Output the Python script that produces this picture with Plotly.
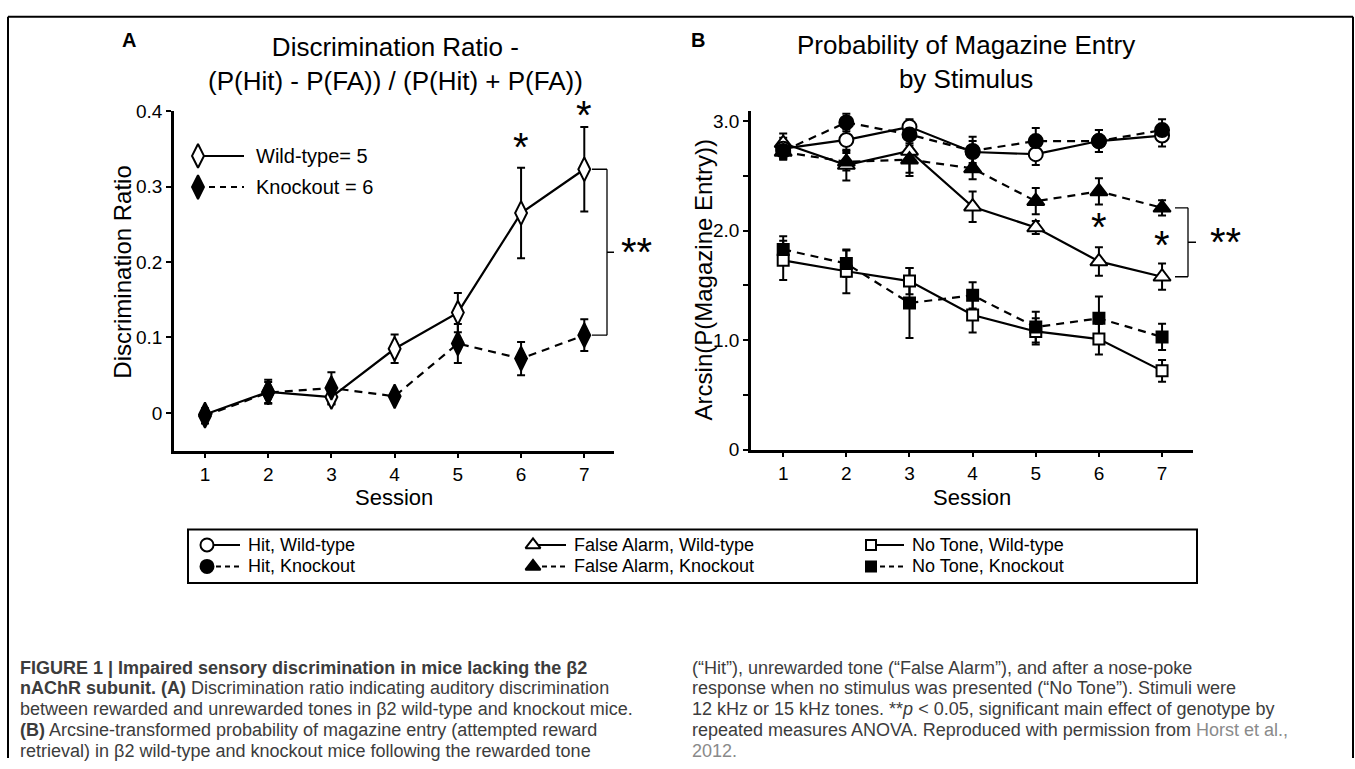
import plotly.graph_objects as go

W, H = 1355, 769
FONT = "Liberation Sans, Arial, Helvetica, sans-serif"

# ---------------- data ----------------
sessions = [1, 2, 3, 4, 5, 6, 7]

# Panel A: discrimination ratio
dr_wt = [-0.002, 0.028, 0.021, 0.085, 0.133, 0.265, 0.323]
dr_wt_err = [0.008, 0.016, 0.010, 0.019, 0.026, 0.060, 0.056]
dr_ko = [-0.004, 0.027, 0.033, 0.022, 0.092, 0.072, 0.103]
dr_ko_err = [0.010, 0.014, 0.021, 0.005, 0.026, 0.022, 0.021]

# Panel B: arcsine probability of magazine entry
hit_wt = [2.75, 2.83, 2.95, 2.72, 2.70, 2.82, 2.87]
hit_wt_err = [0.10, 0.10, 0.07, 0.10, 0.10, 0.10, 0.10]
hit_ko = [2.73, 2.99, 2.88, 2.73, 2.82, 2.82, 2.92]
hit_ko_err = [0.07, 0.08, 0.10, 0.13, 0.12, 0.10, 0.10]
fa_wt = [2.80, 2.60, 2.73, 2.22, 2.03, 1.72, 1.58]
fa_wt_err = [0.09, 0.14, 0.20, 0.14, 0.06, 0.13, 0.12]
fa_ko = [2.72, 2.63, 2.65, 2.57, 2.27, 2.36, 2.21]
fa_ko_err = [0.06, 0.08, 0.15, 0.10, 0.12, 0.12, 0.07]
nt_wt = [1.73, 1.63, 1.54, 1.23, 1.08, 1.01, 0.72]
nt_wt_err = [0.18, 0.20, 0.12, 0.16, 0.12, 0.14, 0.10]
nt_ko = [1.83, 1.70, 1.34, 1.41, 1.12, 1.20, 1.03]
nt_ko_err = [0.12, 0.12, 0.32, 0.12, 0.14, 0.20, 0.12]

a_ticks = [0, 0.1, 0.2, 0.3, 0.4]
a_ticktext = ["0", "0.1", "0.2", "0.3", "0.4"]
b_ticks = [0, 1, 2, 3]
b_ticktext = ["0", "1.0", "2.0", "3.0"]

legend_a = ["Wild-type= 5", "Knockout = 6"]
legend_b = ["Hit, Wild-type", "False Alarm, Wild-type", "No Tone, Wild-type",
            "Hit, Knockout", "False Alarm, Knockout", "No Tone, Knockout"]

# ---------------- figure ----------------
fig = go.Figure()

DASH = "8px,6px"


def err_trace(y, e, xa, ya):
    return go.Scatter(x=sessions, y=y, mode="markers", xaxis=xa, yaxis=ya,
                      marker=dict(size=1, color="rgba(0,0,0,0)"),
                      error_y=dict(type="data", array=e, color="black", thickness=2, width=4),
                      showlegend=False, hoverinfo="skip")


def line_trace(y, xa, ya, dash, symbol, fill, size):
    return go.Scatter(x=sessions, y=y, mode="lines+markers", xaxis=xa, yaxis=ya,
                      line=dict(color="black", width=2.2, dash=dash),
                      marker=dict(symbol=symbol, size=size, color=fill,
                                  line=dict(color="black", width=2)),
                      showlegend=False)


# Panel A
fig.add_trace(err_trace(dr_wt, dr_wt_err, "x", "y"))
fig.add_trace(err_trace(dr_ko, dr_ko_err, "x", "y"))
fig.add_trace(line_trace(dr_wt, "x", "y", "solid", "diamond-tall", "white", 17))
fig.add_trace(line_trace(dr_ko, "x", "y", DASH, "diamond-tall", "black", 17))

# Panel B
for yv, ev in [(hit_wt, hit_wt_err), (fa_wt, fa_wt_err), (nt_wt, nt_wt_err),
               (hit_ko, hit_ko_err), (fa_ko, fa_ko_err), (nt_ko, nt_ko_err)]:
    fig.add_trace(err_trace(yv, ev, "x2", "y2"))
fig.add_trace(line_trace(nt_wt, "x2", "y2", "solid", "square", "white", 11))
fig.add_trace(line_trace(fa_wt, "x2", "y2", "solid", "triangle-up", "white", 15))
fig.add_trace(line_trace(hit_wt, "x2", "y2", "solid", "circle", "white", 14))
fig.add_trace(line_trace(nt_ko, "x2", "y2", DASH, "square", "black", 11))
fig.add_trace(line_trace(fa_ko, "x2", "y2", DASH, "triangle-up", "black", 15))
fig.add_trace(line_trace(hit_ko, "x2", "y2", DASH, "circle", "black", 14))

# ---------------- legend keys (pixel overlay axis x3/y3) ----------------
def key(xm, ym, symbol, fill, size, dash, x1, x2):
    fig.add_trace(go.Scatter(x=[x1, x2], y=[ym, ym], mode="lines", xaxis="x3", yaxis="y3",
                             line=dict(color="black", width=2, dash=dash),
                             showlegend=False, hoverinfo="skip"))
    fig.add_trace(go.Scatter(x=[xm], y=[ym], mode="markers", xaxis="x3", yaxis="y3",
                             marker=dict(symbol=symbol, size=size, color=fill,
                                         line=dict(color="black", width=2)),
                             showlegend=False, hoverinfo="skip"))


annotations = []


def txt(x, y, s, size, xanchor="left", color="black", bold=False, yanchor="middle"):
    annotations.append(dict(x=x, y=y, xref="x3", yref="y3", text=(f"<b>{s}</b>" if bold else s),
                            showarrow=False, xanchor=xanchor, yanchor=yanchor,
                            font=dict(family=FONT, size=size, color=color)))


# panel A legend
key(198, 150, "diamond-tall", "white", 17, "solid", 198, 244)
key(198, 182, "diamond-tall", "black", 17, "6px,5px", 198, 244)
txt(254, 150, legend_a[0], 20)
txt(254, 182, legend_a[1], 20)

# panel B legend
rows = [550, 572]
cols = [207, 533, 871]
syms = [("circle", 13), ("triangle-up", 13), ("square", 10)]
for r in range(2):
    for c in range(3):
        sym, sz = syms[c]
        fill = "white" if r == 0 else "black"
        dash = "solid" if r == 0 else "5px,4px"
        key(cols[c], rows[r], sym, fill, sz, dash, cols[c], cols[c] + 33)
        txt(cols[c] + 39, rows[r], legend_b[r * 3 + c], 18)

# ---------------- texts ----------------
txt(129, 31, "A", 20, xanchor="center", bold=True)
txt(698, 31, "B", 20, xanchor="center", bold=True)
txt(395, 55, "Discrimination Ratio -<br>(P(Hit) - P(FA)) / (P(Hit) + P(FA))", 26, xanchor="center")
txt(966, 53, "Probability of Magazine Entry<br>by Stimulus", 26, xanchor="center")
txt(394, 501, "Session", 22, xanchor="center")
txt(972, 501, "Session", 22, xanchor="center")

annotations.append(dict(x=123, y=270, xref="x3", yref="y3", text="Discrimination Ratio",
                        textangle=-90, showarrow=False,
                        font=dict(family=FONT, size=24, color="black")))
annotations.append(dict(x=703, y=278, xref="x3", yref="y3", text="Arcsin(P(Magazine Entry))",
                        textangle=-90, showarrow=False,
                        font=dict(family=FONT, size=24, color="black")))

# significance stars (data coordinates)
def star(x, y, xref, yref, s="*"):
    annotations.append(dict(x=x, y=y, xref=xref, yref=yref, text=s, showarrow=False,
                            xanchor="center", yanchor="middle",
                            font=dict(family=FONT, size=40, color="black")))


star(6, dr_wt[5] + dr_wt_err[5] + 0.027, "x", "y")
star(7, dr_wt[6] + dr_wt_err[6] + 0.016, "x", "y")
star(6, fa_wt[5] + 0.31, "x2", "y2")
star(7, fa_wt[6] + 0.29, "x2", "y2")

CAP = 18
cap_col = "#3c3c3c"
left_lines = [
    "<b>FIGURE 1 | Impaired sensory discrimination in mice lacking the β2</b>",
    "<b>nAChR subunit. (A)</b> Discrimination ratio indicating auditory discrimination",
    "between rewarded and unrewarded tones in β2 wild-type and knockout mice.",
    "<b>(B)</b> Arcsine-transformed probability of magazine entry (attempted reward",
    "retrieval) in β2 wild-type and knockout mice following the rewarded tone",
]
right_lines = [
    "(“Hit”), unrewarded tone (“False Alarm”), and after a nose-poke",
    "response when no stimulus was presented (“No Tone”). Stimuli were",
    "12 kHz or 15 kHz tones. **<i>p</i> &lt; 0.05, significant main effect of genotype by",
    "repeated measures ANOVA. Reproduced with permission from <span style='color:#8a8a8a'>Horst et al.,</span>",
    "<span style='color:#8a8a8a'>2012.</span>",
]
cap_y = [676, 697.5, 719, 740.5, 762]
for i, s in enumerate(left_lines):
    txt(18, cap_y[i], s, CAP, color=cap_col)
for i, s in enumerate(right_lines):
    txt(690, cap_y[i], s, CAP, color=cap_col)

# ---------------- shapes ----------------
shapes = []
# figure frame
for (x0, y0, x1, y1) in [(8, 7, 1353, 7), (8, 7, 8, 769), (1353, 7, 1353, 769)]:
    shapes.append(dict(type="line", xref="x3", yref="y3", x0=x0, y0=y0, x1=x1, y1=y1,
                       line=dict(color="black", width=2)))
# legend box
shapes.append(dict(type="rect", xref="x3", yref="y3", x0=188, y0=534, x1=1197, y1=589,
                   line=dict(color="black", width=2)))


def bracket(y_top, y_bot, xl, xv, xr, yref):
    p = lambda v: v / W
    kw = dict(xref="paper", yref=yref, line=dict(color="black", width=1.3))
    shapes.append(dict(type="line", x0=p(xl), x1=p(xv), y0=y_top, y1=y_top, **kw))
    shapes.append(dict(type="line", x0=p(xl), x1=p(xv), y0=y_bot, y1=y_bot, **kw))
    shapes.append(dict(type="line", x0=p(xv), x1=p(xv), y0=y_top, y1=y_bot, **kw))
    ym = (y_top + y_bot) / 2
    shapes.append(dict(type="line", x0=p(xv), x1=p(xr), y0=ym, y1=ym, **kw))
    return ym


ym_a = bracket(dr_wt[6], dr_ko[6], 592, 607, 614, "y")
annotations.append(dict(x=636 / W, y=ym_a, xref="paper", yref="y", text="**", showarrow=False,
                        xanchor="center", yanchor="middle",
                        font=dict(family=FONT, size=40, color="black")))
ym_b = bracket(fa_ko[6], fa_wt[6], 1175, 1188, 1196, "y2")
annotations.append(dict(x=1225 / W, y=ym_b, xref="paper", yref="y2", text="**", showarrow=False,
                        xanchor="center", yanchor="middle",
                        font=dict(family=FONT, size=40, color="black")))

# ---------------- axes ----------------
axis_common = dict(showline=True, linecolor="black", linewidth=2.5, ticks="outside",
                   ticklen=5, tickwidth=2, tickcolor="black", showgrid=False, zeroline=False,
                   tickfont=dict(family=FONT, size=19, color="black"), fixedrange=True)

fig.update_layout(
    width=W, height=H,
    margin=dict(l=0, r=0, t=0, b=0),
    paper_bgcolor="white", plot_bgcolor="rgba(0,0,0,0)",
    showlegend=False,
    xaxis=dict(domain=[174 / W, 614 / W], range=[0.51, 7.47], tickvals=sessions,
               anchor="y", **axis_common),
    yaxis=dict(domain=[1 - 453 / H, 1 - 104 / H], range=[-0.05, 0.4], tickvals=a_ticks,
               ticktext=a_ticktext, anchor="x", **axis_common),
    xaxis2=dict(domain=[751 / W, 1193 / W], range=[0.49, 7.49], tickvals=sessions,
                anchor="y2", **axis_common),
    yaxis2=dict(domain=[1 - 452 / H, 1 - 104 / H], range=[0, 3.093], tickvals=b_ticks,
                ticktext=b_ticktext, anchor="x2",
                minor=dict(tickvals=[0.5, 1.5, 2.5], ticklen=5, tickwidth=2, ticks="outside",
                           tickcolor="black"),
                **axis_common),
    xaxis3=dict(domain=[0, 1], range=[0, W], visible=False, fixedrange=True, anchor="y3"),
    yaxis3=dict(domain=[0, 1], range=[H, 0], visible=False, fixedrange=True, anchor="x3"),
    annotations=annotations,
    shapes=shapes,
)

fig.write_html("out.html", config={"displayModeBar": False},
               post_script="document.body.style.margin='0';document.body.style.overflow='hidden';")
